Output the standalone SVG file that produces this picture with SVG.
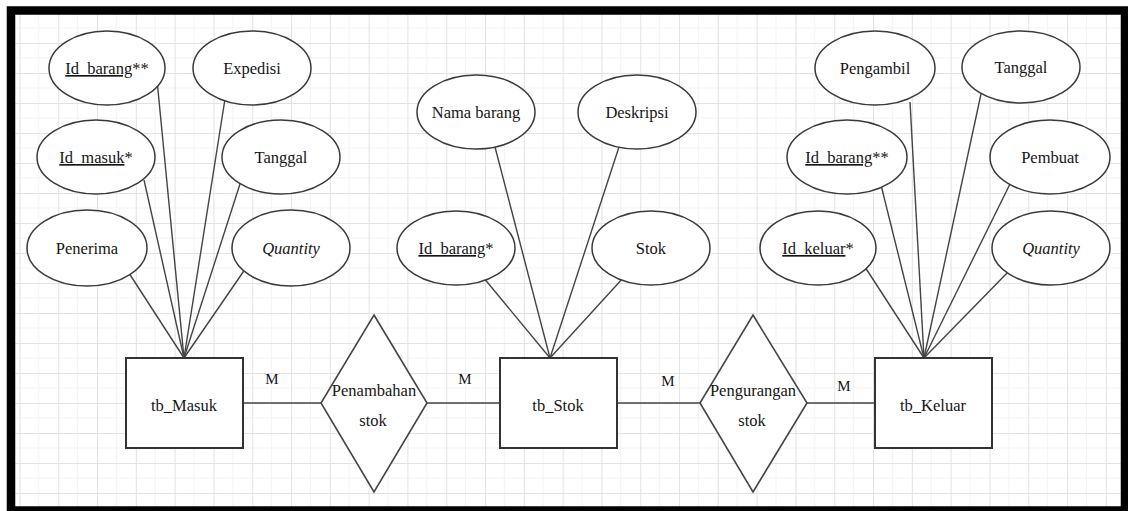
<svg xmlns="http://www.w3.org/2000/svg" width="1128" height="511" viewBox="0 0 1128 511">
  <defs>
    <pattern id="grid" patternUnits="userSpaceOnUse" x="19.4" y="13" width="38.8" height="30">
      <rect width="38.8" height="30" fill="#ffffff"/>
      <path d="M19.4 0V30M0 15H38.8" stroke="#f3f3f3" stroke-width="1" fill="none"/>
      <path d="M0.5 0V30M0 0.5H38.8" stroke="#e3e3e3" stroke-width="1" fill="none"/>
    </pattern>
    <style>
      .attr { fill: #ffffff; stroke: #3a3a3a; stroke-width: 1.5; }
      .ent { fill: #ffffff; stroke: #333333; stroke-width: 2; }
      .rel { fill: #ffffff; stroke: #444444; stroke-width: 1.6; }
      .conn line { stroke: #444444; stroke-width: 1.4; }
      .lbl { font-family: "Liberation Serif", "DejaVu Serif", "Times New Roman", serif; font-size: 16.5px; fill: #151515; text-anchor: middle; }
      .u { text-decoration: underline; }
      .it { font-style: italic; }
      .card { font-size: 15px; }
    </style>
  </defs>

  <rect x="0" y="0" width="1128" height="511" fill="#ffffff"/>
  <rect x="15" y="14.5" width="1106" height="492" fill="url(#grid)"/>

  <g id="connectors" class="conn">
    <!-- tb_Masuk attributes -->
    <line x1="157" y1="80" x2="184" y2="358"/>
    <line x1="225" y1="99" x2="184" y2="358"/>
    <line x1="144" y1="180" x2="184" y2="358"/>
    <line x1="240" y1="184" x2="184" y2="358"/>
    <line x1="127" y1="270" x2="184" y2="358"/>
    <line x1="250" y1="262" x2="184" y2="358"/>
    <!-- tb_Stok attributes -->
    <line x1="495" y1="147" x2="550" y2="358"/>
    <line x1="619" y1="147" x2="550" y2="358"/>
    <line x1="483" y1="277" x2="550" y2="358"/>
    <line x1="624" y1="277" x2="550" y2="358"/>
    <!-- tb_Keluar attributes -->
    <line x1="910" y1="102" x2="924" y2="358"/>
    <line x1="981" y1="94" x2="924" y2="358"/>
    <line x1="881" y1="185" x2="924" y2="358"/>
    <line x1="1010" y1="184" x2="924" y2="358"/>
    <line x1="865" y1="267" x2="924" y2="358"/>
    <line x1="1010" y1="270" x2="924" y2="358"/>
    <!-- relationships -->
    <line x1="243" y1="403" x2="321" y2="403"/>
    <line x1="427" y1="403" x2="500" y2="403"/>
    <line x1="617" y1="403" x2="700" y2="403"/>
    <line x1="807" y1="403" x2="875" y2="403"/>
  </g>

  <g id="cardinalities" class="lbl">
    <text class="lbl card" x="272" y="384">M</text>
    <text class="lbl card" x="465" y="384">M</text>
    <text class="lbl card" x="668" y="386">M</text>
    <text class="lbl card" x="844" y="391">M</text>
  </g>

  <!-- tb_Masuk attributes -->
  <g id="attr-masuk-idbarang">
    <ellipse class="attr" cx="107" cy="68" rx="58" ry="37"/>
    <text class="lbl" x="107" y="74"><tspan class="u">Id_barang</tspan>**</text>
  </g>
  <g id="attr-masuk-expedisi">
    <ellipse class="attr" cx="252" cy="68" rx="59" ry="37"/>
    <text class="lbl" x="252" y="74">Expedisi</text>
  </g>
  <g id="attr-masuk-idmasuk">
    <ellipse class="attr" cx="96" cy="157" rx="59" ry="37"/>
    <text class="lbl" x="96" y="163"><tspan class="u">Id_masuk</tspan>*</text>
  </g>
  <g id="attr-masuk-tanggal">
    <ellipse class="attr" cx="281" cy="157" rx="59" ry="37"/>
    <text class="lbl" x="281" y="163">Tanggal</text>
  </g>
  <g id="attr-masuk-penerima">
    <ellipse class="attr" cx="87" cy="248" rx="60" ry="38"/>
    <text class="lbl" x="87" y="254">Penerima</text>
  </g>
  <g id="attr-masuk-quantity">
    <ellipse class="attr" cx="291" cy="248" rx="59" ry="38"/>
    <text class="lbl it" x="291" y="254">Quantity</text>
  </g>

  <!-- tb_Stok attributes -->
  <g id="attr-stok-nama">
    <ellipse class="attr" cx="476" cy="112" rx="59" ry="37"/>
    <text class="lbl" x="476" y="118">Nama barang</text>
  </g>
  <g id="attr-stok-deskripsi">
    <ellipse class="attr" cx="637" cy="112" rx="59" ry="37"/>
    <text class="lbl" x="637" y="118">Deskripsi</text>
  </g>
  <g id="attr-stok-idbarang">
    <ellipse class="attr" cx="456" cy="248" rx="59" ry="37"/>
    <text class="lbl" x="456" y="254"><tspan class="u">Id_barang</tspan>*</text>
  </g>
  <g id="attr-stok-stok">
    <ellipse class="attr" cx="651" cy="248" rx="59" ry="37"/>
    <text class="lbl" x="651" y="254">Stok</text>
  </g>

  <!-- tb_Keluar attributes -->
  <g id="attr-keluar-pengambil">
    <ellipse class="attr" cx="875" cy="68" rx="60" ry="37"/>
    <text class="lbl" x="875" y="74">Pengambil</text>
  </g>
  <g id="attr-keluar-tanggal">
    <ellipse class="attr" cx="1021" cy="67" rx="59" ry="36"/>
    <text class="lbl" x="1021" y="73">Tanggal</text>
  </g>
  <g id="attr-keluar-idbarang">
    <ellipse class="attr" cx="847" cy="157" rx="60" ry="37"/>
    <text class="lbl" x="847" y="163"><tspan class="u">Id_barang</tspan>**</text>
  </g>
  <g id="attr-keluar-pembuat">
    <ellipse class="attr" cx="1050" cy="157" rx="60" ry="37"/>
    <text class="lbl" x="1050" y="163">Pembuat</text>
  </g>
  <g id="attr-keluar-idkeluar">
    <ellipse class="attr" cx="818" cy="248" rx="58" ry="37"/>
    <text class="lbl" x="818" y="254"><tspan class="u">Id_keluar</tspan>*</text>
  </g>
  <g id="attr-keluar-quantity">
    <ellipse class="attr" cx="1051" cy="248" rx="59" ry="37"/>
    <text class="lbl it" x="1051" y="254">Quantity</text>
  </g>

  <!-- entities -->
  <g id="tb_Masuk">
    <rect class="ent" x="126" y="358" width="117" height="90"/>
    <text class="lbl" x="184" y="411">tb_Masuk</text>
  </g>
  <g id="tb_Stok">
    <rect class="ent" x="500" y="358" width="117" height="90"/>
    <text class="lbl" x="558" y="411">tb_Stok</text>
  </g>
  <g id="tb_Keluar">
    <rect class="ent" x="875" y="358" width="117" height="90"/>
    <text class="lbl" x="933" y="411">tb_Keluar</text>
  </g>

  <!-- relationships -->
  <g id="rel-penambahan">
    <polygon class="rel" points="374,315 427,403 374,492 321,403"/>
    <text class="lbl" x="374" y="396">Penambahan</text>
    <text class="lbl" x="373" y="426">stok</text>
  </g>
  <g id="rel-pengurangan">
    <polygon class="rel" points="753,315 807,403 753,492 700,403"/>
    <text class="lbl" x="753" y="396">Pengurangan</text>
    <text class="lbl" x="752" y="426">stok</text>
  </g>

  <!-- frame -->
  <rect x="11" y="10.5" width="1114" height="500" fill="none" stroke="#000000" stroke-width="8.5"/>
</svg>
